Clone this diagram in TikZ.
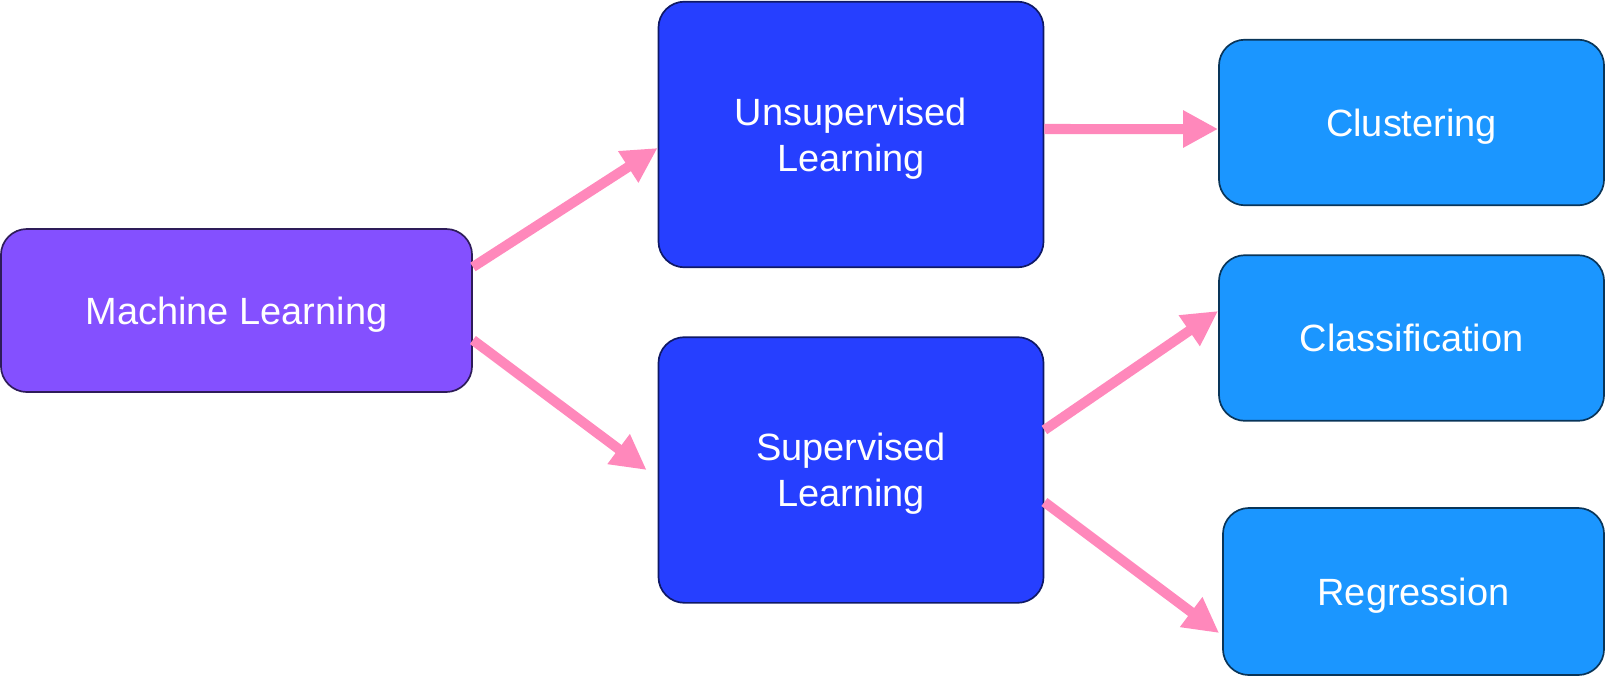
\documentclass[tikz,border=0pt]{standalone}
\usepackage{fontspec}
\setmainfont{Liberation Sans}
\usetikzlibrary{arrows.meta,calc}

\definecolor{mlpurple}{HTML}{8450FF}
\definecolor{mlblue}{HTML}{263FFF}
\definecolor{mlsky}{HTML}{1B96FF}
\definecolor{mlpink}{HTML}{FF88BB}

\tikzset{
    box/.style = {draw, line width=1.2pt, rounded corners=0.65cm, text=white,
                  align=center, text depth=0pt, font=\fontsize{27}{33}\selectfont},
    topbox/.style = {box, fill=mlpurple, draw=mlpurple!35!black},
    midbox/.style = {box, fill=mlblue, draw=mlblue!40!black,
                     minimum width=9.625cm, minimum height=6.64cm},
    leafbox/.style = {box, fill=mlsky, draw=mlsky!35!black,
                      minimum width=9.625cm, minimum height=4.14cm},
    link/.style = {draw=mlpink, line width=0.25cm,
                   -{Triangle[width=0.875cm,length=0.875cm]}}
}

\begin{document}
\begin{tikzpicture}[x=0.025cm, y=-0.025cm]
    \useasboundingbox (0,0) rectangle (1608,677);

    % Root
    \node[topbox, minimum width=11.775cm, minimum height=4.075cm] (ml) at (236.5,310.5) {Machine Learning};

    % Two kinds of learning
    \node[midbox] (unsup) at (851,134.5) {Unsupervised\\Learning};
    \node[midbox] (sup) at (851,470) {Supervised\\Learning};

    % Tasks
    \node[leafbox] (clust) at (1411.5,122.5) {Clustering};
    \node[leafbox] (class) at (1411.5,338) {Classification};
    \node[leafbox, minimum width=9.525cm, minimum height=4.175cm] (regr) at (1413.5,591.5) {Regression};

    % Arrows
    \draw[link] ([yshift=1.0875cm]ml.east) -- ([yshift=-0.3375cm]unsup.west);
    \draw[link] ([yshift=-0.7375cm]ml.east) -- ([xshift=-0.275cm]sup.west);
    \draw[link] ([yshift=0.1375cm]unsup.east) -- ([yshift=-0.1625cm]clust.west);
    \draw[link] ([yshift=1cm]sup.east) -- ([yshift=0.675cm]class.west);
    \draw[link] ([yshift=-0.8cm]sup.east) -- ([xshift=-0.075cm,yshift=-1.0375cm]regr.west);

\end{tikzpicture}
\end{document}
